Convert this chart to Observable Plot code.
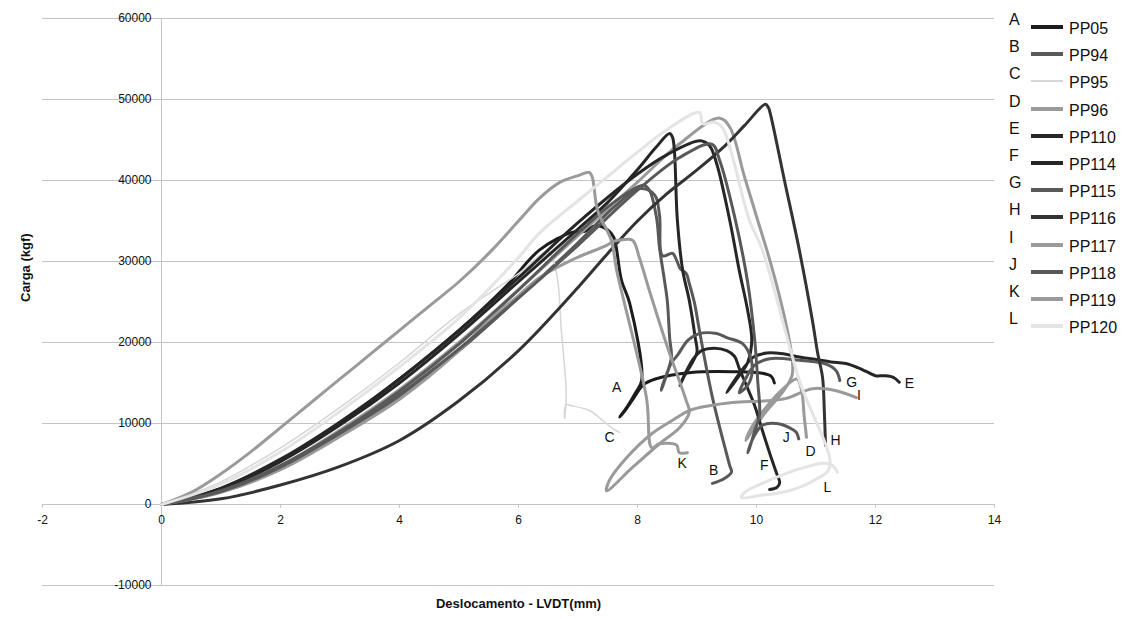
<!DOCTYPE html>
<html>
<head>
<meta charset="utf-8">
<script src="https://cdn.jsdelivr.net/npm/d3@7"></script>
<script src="https://cdn.jsdelivr.net/npm/@observablehq/plot@0.6"></script>
<style>
  body { margin: 0; background: #fff; font-family: "Liberation Sans", Arial, sans-serif; }
  #wrap { position: relative; width: 1126px; height: 619px; }
  #legend { position: absolute; left: 1008px; top: 12px; }
  .row { position: absolute; left: 0; width: 118px; height: 27px; }
  .let { position: absolute; left: 1px; top: -1px; font-size: 16px; line-height: 18px; color: #111; }
  .sw { position: absolute; left: 23px; width: 32px; }
  .lab { position: absolute; left: 61px; top: 8px; font-size: 16px; line-height: 18px; color: #111; }
</style>
</head>
<body>
<div id="wrap"><div id="chart"></div><div id="legend"></div></div>
<script>
// ---- data ----
const seriesNames = ["PP05","PP94","PP95","PP96","PP110","PP114","PP115","PP116","PP117","PP118","PP119","PP120"];
const letters = ["A","B","C","D","E","F","G","H","I","J","K","L"];
const colors = ["#1c1c1c","#595959","#d6d6d6","#9a9a9a","#262626","#262626","#595959","#333333","#9a9a9a","#595959","#9a9a9a","#e4e4e4"];
const widths = [3,3,1.5,3,3,3,3,3,3,3,3,3];

const xTicks = [-2,0,2,4,6,8,10,12,14];
const yTicks = [-10000,0,10000,20000,30000,40000,50000,60000];

// PP05 (A)
const A_x = [0,1,2,3,4,5,5.8,6.35,6.9,7.1,7.3,7.5,7.6,7.73,7.87,8.07,7.96,7.82,7.7,7.8,7.95,8.1,8.3,8.9,9.6,10.1,10.25,10.3];
const A_y = [0,2000,5500,10000,15500,21500,27000,31400,33600,33700,34400,33900,33000,27700,24800,15300,13700,12000,10800,11700,13300,14800,15500,16300,16400,16200,15800,15000];
// PP94 (B)
const B_x = [0,1,2,3,4,5,6,7,7.6,8.05,8.29,8.37,8.42,8.59,8.66,8.72,8.82,8.87,8.96,9.04,9.26,9.55,9.58,9.46,9.26];
const B_y = [0,1600,4500,8500,13300,19000,25500,32300,36700,39000,38200,35700,30700,31000,30100,29100,28500,27300,24800,21500,13200,4800,4000,3200,2600];
// PP95 (C)
const C_x = [0,1,2,3,4,5,6,6.5,6.64,6.72,6.8,6.79,6.77,6.8,6.89,7.19,7.41,7.58,7.7];
const C_y = [0,2800,7000,12000,17500,23500,28500,31200,28500,21500,14100,11600,10600,12300,12200,11600,10400,9400,8900];
// PP96 (D)
const D_x = [0,1,2,3,4,5,6,7,8,8.7,9.38,9.55,9.8,10.02,10.25,10.45,10.58,10.6,10.45,10.2,9.97,9.82,9.9,10.15,10.45,10.68,10.76,10.8,10.84];
const D_y = [0,1700,4800,9200,14200,20000,26500,33200,39800,44500,47700,46600,40400,35100,29500,23800,19000,16000,14000,11800,9600,7900,9300,11900,14300,15500,14000,11000,8300];
// PP110 (E)
const E_x = [0,1,2,3,4,5,6,7,8,8.5,9.05,9.21,9.33,9.55,9.71,9.85,9.92,9.85,9.7,9.5,9.62,9.8,9.95,10.17,10.45,10.72,11.0,11.25,11.5,11.7,11.85,12.0,12.15,12.3,12.4];
const E_y = [0,2000,5600,10200,15500,21500,28000,34800,40800,43200,44900,44300,42100,35100,28900,24000,20300,17500,15800,13800,15200,17000,18200,18700,18600,18200,17900,17600,17400,16900,16400,15900,15900,15700,15100];
// PP114 (F)
const F_x = [0,1,2,3,4,5,6,7,7.5,8.03,8.3,8.54,8.59,8.62,8.67,8.76,8.87,8.97,9.0,8.92,8.79,8.71,8.81,8.94,9.08,9.29,9.5,9.63,9.71,9.83,9.97,10.1,10.25,10.35,10.39,10.34,10.22];
const F_y = [0,1900,5300,9800,15000,21000,27500,34000,37300,41600,44000,45800,45300,43700,35100,28900,25200,20600,18800,17500,15900,14700,16300,18000,19000,19300,19000,18300,16800,14700,12200,9100,5700,3600,2700,2100,1850];
// PP115 (G)
const G_x = [0,1,2,3,4,5,6,7,7.6,8.1,8.2,8.32,8.37,8.44,8.5,8.54,8.57,8.5,8.42,8.4,8.47,8.57,8.67,8.85,9.04,9.33,9.5,9.76,9.88,9.93,9.85,9.71,9.8,9.97,10.22,10.72,11.18,11.34,11.4];
const G_y = [0,1700,4800,9000,14000,19800,26500,33500,37300,39400,38800,35400,31700,28300,25200,20600,18200,16300,14700,14100,15600,17500,18400,20300,21100,21100,20600,19900,18600,16500,14700,13800,15300,17200,18000,17800,17300,16500,15300];
// PP116 (H)
const H_x = [0,1,2,3,4,5,6,7,7.5,8,8.5,9,9.5,9.8,10.15,10.2,10.24,10.47,10.72,10.94,11.03,11.11,11.14,11.16];
const H_y = [0,700,2400,4700,7900,12800,19000,26800,31000,35000,38400,41300,44500,46800,49400,49000,48000,40000,31400,22700,18600,15700,11500,7300];
// PP117 (I)
const I_x = [0,1,2,3,4,5,5.5,6,6.35,6.9,7.48,7.6,7.75,7.92,8.03,8.2,8.5,8.82,8.87,8.71,8.37,7.92,7.48,7.53,7.82,8.25,8.59,8.87,9.21,9.6,10.17,10.5,10.94,11.3,11.68];
const I_y = [0,1500,4300,8400,13000,19000,22700,25800,28000,30200,32000,32500,32700,32600,30500,26400,19500,12800,11400,9500,7500,4600,1700,3000,5800,8800,10400,11600,12200,12600,12800,13100,14300,14100,13200];
// PP118 (J)
const J_x = [0,1,2,3,4,5,6,7,8,8.7,9.25,9.38,9.63,9.85,9.97,10.02,10.05,9.97,9.88,9.85,9.95,10.1,10.34,10.55,10.67,10.71];
const J_y = [0,1600,4600,8800,13600,19200,25500,32000,38800,42800,44500,42500,35600,27500,20300,15300,11000,9100,6900,6400,8300,9800,10000,9500,8900,8100];
// PP119 (K)
const K_x = [0,0.5,1,1.5,2,2.5,3,3.5,4,4.5,5,5.5,6,6.35,6.7,7.0,7.19,7.24,7.33,7.56,7.65,8.15,8.24,8.37,8.66,8.7,8.84];
const K_y = [0,1500,3800,6500,9500,12500,15500,18500,21500,24500,27500,31000,35000,37800,39800,40600,41000,40400,36300,32600,28900,13200,7000,7500,7300,6400,6400];
// PP120 (L)
const L_x = [0,1,2,3,4,5,6,6.35,7,7.5,8,8.5,9.04,9.1,9.3,9.43,9.88,10.1,10.72,11.23,10.97,10.55,10.05,9.75,9.8,10.22,10.72,11.14,11.28,11.36];
const L_y = [0,2500,6500,11500,17000,23000,30500,33500,37500,40500,43500,46300,48400,47000,47200,46500,35100,31400,15300,4600,3000,1700,1100,860,1500,3000,4400,5100,4800,4000];

// curve-end labels (positions)
const labelX = [7.65,9.28,7.53,10.91,12.57,10.13,11.6,11.33,11.72,10.5,8.75,11.19];
const labelY = [14400,4200,8300,6500,14900,4800,15100,7900,13450,8300,5100,2100];

const xs = [A_x,B_x,C_x,D_x,E_x,F_x,G_x,H_x,I_x,J_x,K_x,L_x];
const ys = [A_y,B_y,C_y,D_y,E_y,F_y,G_y,H_y,I_y,J_y,K_y,L_y];

const seriesData = seriesNames.map((name, i) => xs[i].map((x, j) => ({series: name, x, y: ys[i][j]})));
const labels = letters.map((t, i) => ({t, x: labelX[i], y: labelY[i]}));

const grid = "#c3c3c3";
const chart = Plot.plot({
  width: 1126,
  height: 619,
  marginLeft: 42,
  marginRight: 132,
  marginTop: 18,
  marginBottom: 34,
  x: {domain: [-2, 14], axis: null},
  y: {domain: [-10000, 60000], axis: null},
  style: {fontFamily: "'Liberation Sans', Arial, sans-serif", fontSize: "12px", background: "#fff", color: "#111"},
  marks: [
    Plot.ruleY(yTicks, {stroke: grid, strokeWidth: 1}),
    Plot.ruleX([0], {y1: -10000, y2: 60000, stroke: grid, strokeWidth: 1}),
    Plot.ruleX(xTicks, {y1: 0, y2: -450, stroke: grid, strokeWidth: 1}),
    Plot.text(yTicks, {x: 0, y: d => d, text: d => String(d), textAnchor: "end", dx: -10, fontSize: 12, fill: "#111"}),
    Plot.text(xTicks, {x: d => d, y: 0, text: d => String(d), dy: 16, fontSize: 12, fill: "#111"}),
    ...seriesData.map((d, i) => Plot.line(d, {x: "x", y: "y", stroke: colors[i], strokeWidth: widths[i], curve: "catmull-rom", strokeLinejoin: "round", strokeLinecap: "round"})),
    Plot.text(labels, {x: "x", y: "y", text: "t", fontSize: 14, fill: "#111"}),
    Plot.text(["Deslocamento - LVDT(mm)"], {frameAnchor: "bottom", dy: 22, fontWeight: "bold", fontSize: 13, fill: "#111"}),
    Plot.text(["Carga (kgf)"], {frameAnchor: "left", rotate: -90, dx: -17, fontWeight: "bold", fontSize: 13, fill: "#111"})
  ]
});
document.getElementById("chart").appendChild(chart);

// legend
const leg = document.getElementById("legend");
seriesNames.forEach((name, i) => {
  const row = document.createElement("div");
  row.className = "row";
  row.style.top = (i * 27.2) + "px";
  const h = widths[i] < 2 ? 2 : 4;
  row.innerHTML = `<span class="let">${letters[i]}</span>` +
    `<span class="sw" style="top:${15 - h/2}px;height:${h}px;background:${colors[i]}"></span>` +
    `<span class="lab">${name}</span>`;
  leg.appendChild(row);
});
</script>
</body>
</html>
